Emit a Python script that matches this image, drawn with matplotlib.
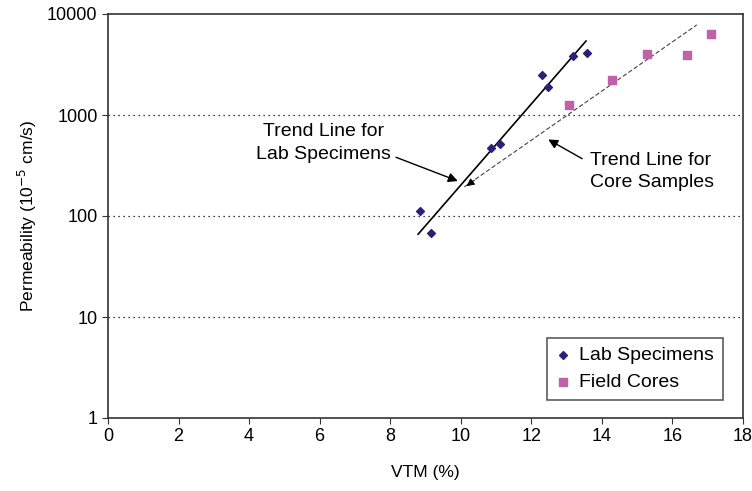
import numpy as np
import matplotlib.pyplot as plt

plt.rcParams['font.family'] = ['Liberation Sans', 'DejaVu Sans']

# lab specimens
lab_vtm = [8.84, 9.16, 10.87, 11.1, 12.3, 12.47, 13.18, 13.58]
lab_perm = [112, 68, 470, 515, 2500, 1900, 3800, 4100]

# field cores
core_vtm = [13.07, 14.29, 15.29, 16.4, 17.09]
core_perm = [1250, 2200, 4000, 3900, 6300]

# trend lines (end points)
lab_trend_x = [8.79, 13.55]
lab_trend_y = [66, 5400]
core_trend_x = [10.1, 16.69]
core_trend_y = [194, 7800]

fig = plt.figure(figsize=(7.52, 4.91), dpi=100)
ax = fig.add_axes([108 / 752, 1 - 418 / 491, 635 / 752, 404 / 491])

ax.set_yscale('log')
ax.set_xlim(0, 18)
ax.set_ylim(1, 10000)
ax.set_xticks(range(0, 19, 2))
ax.set_yticks([1, 10, 100, 1000, 10000])
ax.set_yticklabels(['1', '10', '100', '1000', '10000'])
ax.minorticks_off()
ax.tick_params(labelsize=13, length=4, color='#333333')
for s in ax.spines.values():
    s.set_color('#333333')
    s.set_linewidth(1.2)

for yv in [10, 100, 1000]:
    ax.axhline(yv, color='black', linestyle=(0, (1, 3)), linewidth=0.9, zorder=0)

ax.plot(lab_trend_x, lab_trend_y, color='black', linewidth=1.2, zorder=2)
ax.plot(core_trend_x, core_trend_y, color='#444444', linestyle=(0, (4, 2)),
        linewidth=0.8, zorder=2)

ax.scatter(lab_vtm, lab_perm, marker='D', s=16, color='#2B1F7A',
           label='Lab Specimens', zorder=3)
ax.scatter(core_vtm, core_perm, marker='s', s=30, color='#C062A8',
           label='Field Cores', zorder=3)

arrow = dict(arrowstyle='-|>', color='black', linewidth=1.0, mutation_scale=14,
             relpos=(1, 0.2))
ax.annotate('Trend Line for\nLab Specimens', xy=(9.99, 217), xytext=(6.1, 525),
            fontsize=14, ha='center', va='center', linespacing=1.45,
            arrowprops=arrow)
ax.annotate('', xy=(10.1, 190), xytext=(10.45, 235),
            arrowprops=dict(arrowstyle='-|>', color='black', linewidth=0.6,
                            mutation_scale=12))
ax.annotate('Trend Line for\nCore Samples', xy=(12.41, 590), xytext=(13.65, 275),
            fontsize=14, ha='left', va='center', linespacing=1.35,
            arrowprops=dict(arrowstyle='-|>', color='black', linewidth=1.0,
                            mutation_scale=14, relpos=(-0.04, 0.8)))

leg = ax.legend(loc='lower right', bbox_to_anchor=(723 / 752, 1 - 400 / 491),
                bbox_transform=fig.transFigure, fontsize=14, frameon=True,
                fancybox=False, edgecolor='#333333', handletextpad=0.45,
                handlelength=0.75, borderpad=0.45, borderaxespad=0,
                labelspacing=0.5)
leg.get_frame().set_linewidth(1.2)

ax.set_xlabel('VTM (%)', fontsize=12.5, labelpad=14)
ax.set_ylabel('Permeability (10$^{-5}$ cm/s)', fontsize=12.5, labelpad=6)

fig.savefig('out.png', dpi=100)
